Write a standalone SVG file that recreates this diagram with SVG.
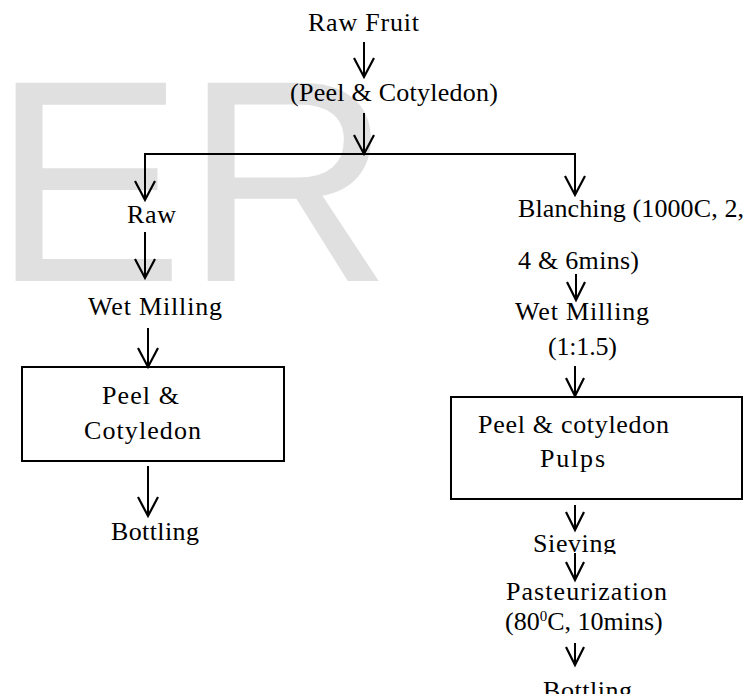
<svg xmlns="http://www.w3.org/2000/svg" width="756" height="694" viewBox="0 0 756 694">
<style>
  .t { font-family: "Liberation Serif", "Times New Roman", serif; font-size: 26px; fill: #000; }
  .wm { font-family: "Liberation Sans", Arial, sans-serif; font-size: 288px; fill: #e0e0e0; }
  .ln { stroke: #000; stroke-width: 2; fill: none; }
  .hd { stroke: #000; stroke-width: 2.2; fill: none; stroke-linejoin: miter; }
  .box { stroke: #000; stroke-width: 2; fill: none; }
</style>
<defs>
  <clipPath id="clipSieve"><rect x="500" y="520" width="160" height="34"/></clipPath>
</defs>
<rect x="0" y="0" width="756" height="694" fill="#fff"/>
<text class="wm" x="-8" y="281">ER</text>

<g id="connectors">
  <line class="ln" x1="364" y1="42" x2="364" y2="77"/>
  <polyline class="hd" points="354,58 364,77 374,58"/>
  <line class="ln" x1="364" y1="113" x2="364" y2="154"/>
  <polyline class="hd" points="354,135 364,154 374,135"/>
  <polyline class="ln" points="145,200 145,154 575,154 575,195"/>
  <polyline class="hd" points="135,181 145,200 155,181"/>
  <polyline class="hd" points="565,176 575,195 585,176"/>
  <line class="ln" x1="145" y1="232" x2="145" y2="278"/>
  <polyline class="hd" points="135,259 145,278 155,259"/>
  <line class="ln" x1="148" y1="328" x2="148" y2="367"/>
  <polyline class="hd" points="138,348 148,367 158,348"/>
  <line class="ln" x1="148" y1="466" x2="148" y2="516"/>
  <polyline class="hd" points="138,497 148,516 158,497"/>
  <line class="ln" x1="576" y1="274" x2="576" y2="300"/>
  <polyline class="hd" points="567,282 576,300 585,282"/>
  <line class="ln" x1="575" y1="366" x2="575" y2="396"/>
  <polyline class="hd" points="566,378 575,396 584,378"/>
  <line class="ln" x1="575" y1="505" x2="575" y2="530"/>
  <polyline class="hd" points="566,512 575,530 584,512"/>
  <line class="ln" x1="575" y1="553" x2="575" y2="580"/>
  <polyline class="hd" points="566,562 575,580 584,562"/>
  <line class="ln" x1="575" y1="643" x2="575" y2="665"/>
  <polyline class="hd" points="566,647 575,665 584,647"/>
</g>

<g id="raw-fruit"><text class="t" x="308" y="31" textLength="111" lengthAdjust="spacing">Raw Fruit</text></g>
<g id="peel-cotyledon-top"><text class="t" x="290" y="101" textLength="208" lengthAdjust="spacing">(Peel &amp; Cotyledon)</text></g>

<g id="raw"><text class="t" x="127" y="223" textLength="49" lengthAdjust="spacing">Raw</text></g>
<g id="wet-milling-left"><text class="t" x="88" y="315" textLength="134" lengthAdjust="spacing">Wet Milling</text></g>
<g id="box-left">
  <rect class="box" x="22" y="367" width="262" height="94"/>
  <text class="t" x="102" y="404" textLength="77" lengthAdjust="spacing">Peel &amp;</text>
  <text class="t" x="84" y="439" textLength="117" lengthAdjust="spacing">Cotyledon</text>
</g>
<g id="bottling-left"><text class="t" x="111" y="540" textLength="88" lengthAdjust="spacing">Bottling</text></g>

<g id="blanching">
  <text class="t" x="518" y="217" textLength="226" lengthAdjust="spacing">Blanching (1000C, 2,</text>
  <text class="t" x="518" y="269" textLength="121" lengthAdjust="spacing">4 &amp; 6mins)</text>
</g>
<g id="wet-milling-right">
  <text class="t" x="515" y="320" textLength="134" lengthAdjust="spacing">Wet Milling</text>
  <text class="t" x="548" y="355" textLength="69" lengthAdjust="spacing">(1:1.5)</text>
</g>
<g id="box-right">
  <rect class="box" x="451" y="397" width="291" height="102"/>
  <text class="t" x="478" y="433" textLength="191" lengthAdjust="spacing">Peel &amp; cotyledon</text>
  <text class="t" x="540" y="467" textLength="65" lengthAdjust="spacing">Pulps</text>
</g>
<g id="sieving"><text class="t" x="533" y="552" textLength="83" lengthAdjust="spacing" clip-path="url(#clipSieve)">Sieving</text></g>
<g id="pasteurization">
  <text class="t" x="506" y="600" textLength="161" lengthAdjust="spacing">Pasteurization</text>
  <text class="t" x="505" y="630">(80<tspan font-size="15" dy="-9">0</tspan><tspan dy="9">C, 10mins)</tspan></text>
</g>
<g id="bottling-right"><text class="t" x="543" y="699" textLength="89" lengthAdjust="spacing">Bottling</text></g>
</svg>
